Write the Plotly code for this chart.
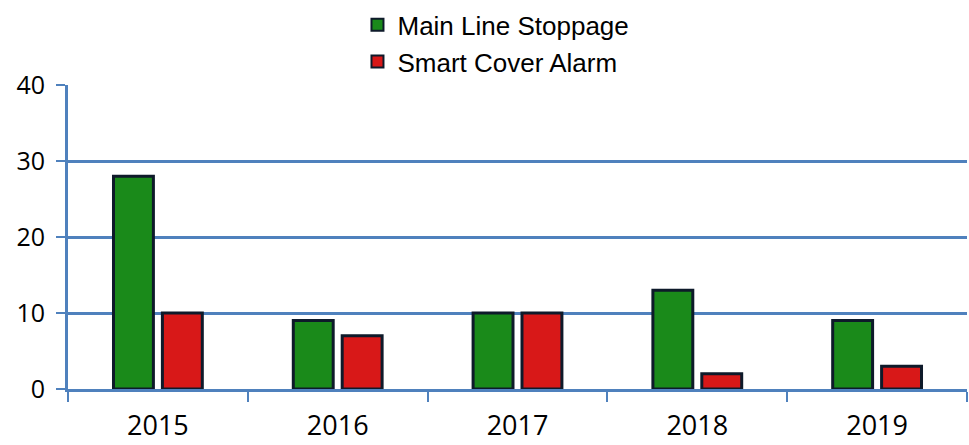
import plotly.graph_objects as go

years = ["2015", "2016", "2017", "2018", "2019"]
main_line = [28, 9, 10, 13, 9]
smart_cover = [10, 7, 10, 2, 3]
y_ticks = [0, 10, 20, 30, 40]

fig = go.Figure()
fig.add_trace(go.Bar(x=years, y=main_line, name="Main Line Stoppage",
                     marker=dict(color="#1a8a1a", line=dict(color="#0e1a2a", width=3))))
fig.add_trace(go.Bar(x=years, y=smart_cover, name="Smart Cover Alarm",
                     marker=dict(color="#d81818", line=dict(color="#0e1a2a", width=3))))

fig.update_layout(
    width=969, height=445,
    margin=dict(l=68, r=2, t=85, b=56),
    plot_bgcolor="white", paper_bgcolor="white",
    barmode="group", bargap=0.456, bargroupgap=0.184,
    font=dict(family="Liberation Sans, Arial, sans-serif", color="black"),
    legend=dict(orientation="v", x=0.322, xanchor="left", y=1.275, yanchor="top",
                font=dict(size=26, family="Liberation Sans, Arial, sans-serif"),
                itemsizing="constant", tracegroupgap=0, itemwidth=30,
                bgcolor="rgba(0,0,0,0)"),
    showlegend=True,
)
fig.update_xaxes(showline=True, linecolor="#4f81bd", linewidth=3, automargin=False,
                 ticks="outside", tickson="boundaries", ticklen=10, tickwidth=2,
                 tickcolor="#4f81bd", tickfont=dict(size=27, family="Open Sans, sans-serif"),
                 tickangle=0, ticklabelstandoff=11, showgrid=False)
fig.update_yaxes(range=[0, 40], tickvals=y_ticks, showline=True, linecolor="#4f81bd",
                 linewidth=3, ticks="outside", ticklen=9, tickwidth=2, tickcolor="#4f81bd",
                 gridcolor="#4f81bd", gridwidth=2.5, zeroline=False, automargin=False,
                 ticklabelstandoff=6,
                 tickfont=dict(size=25, family="Open Sans, sans-serif"))

fig.write_html("out.html", config={"displayModeBar": False},
               post_script="document.body.style.margin='0';")
